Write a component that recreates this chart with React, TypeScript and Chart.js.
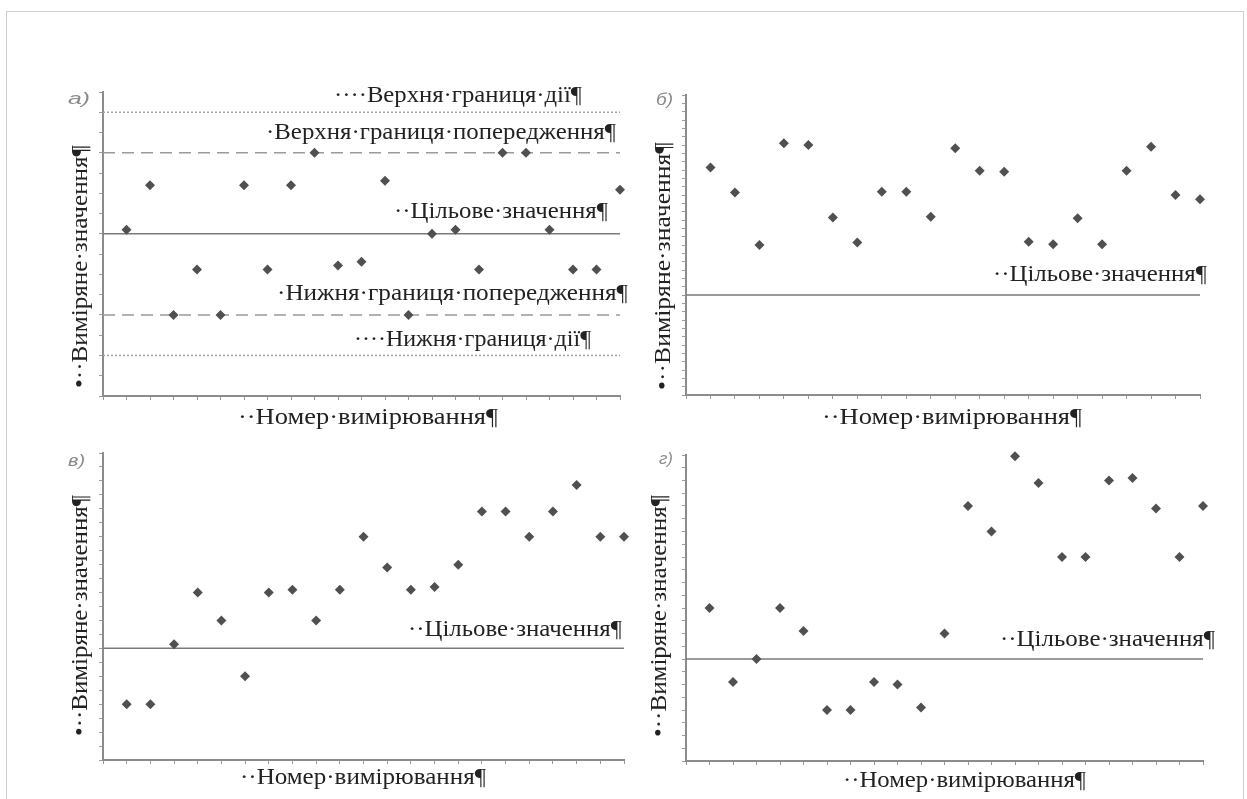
import React, { useEffect, useRef } from "react";
import { Chart, registerables } from "chart.js";

Chart.register(...registerables);

// ---------- DATA ----------
// Panel а) – values in σ units, target 0, warning ±2, action ±3
const measurementsA = [0.1, 1.2, -2, -0.88, -2, 1.2, -0.88, 1.2, 2, -0.78, -0.69, 1.31, -2, 0, 0.1, -0.88, 2, 2, 0.1, -0.88, -0.88, 1.09];
const targetA = 0;
const warningLimitsA = [2, -2];
const actionLimitsA = [3, -3];
const yRangeA = [-4, 3.5];
const yStepA = 0.5;

// Panel б)
const measurementsB = [15.3, 12.3, 6, 18.2, 18, 9.3, 6.3, 12.4, 12.4, 9.4, 17.6, 14.9, 14.8, 6.4, 6.1, 9.2, 6.1, 14.9, 17.8, 12, 11.5];
const targetB = 0;
const yRangeB = [-12, 24];
const yStepB = 1;

// Panel в)
const measurementsC = [-4, -4, 0.3, 4, 2, -2, 4, 4.2, 2, 4.2, 8, 5.8, 4.2, 4.4, 6, 9.8, 9.8, 8, 9.8, 11.7, 8, 8];
const targetC = 0;
const yRangeC = [-8, 14];
const yStepC = 1;

// Panel г)
const measurementsD = [4, -1.8, 0, 4, 2.2, -4, -4, -1.8, -2, -3.8, 2, 12, 10, 15.9, 13.8, 8, 8, 14, 14.2, 11.8, 8, 12];
const targetD = 0;
const yRangeD = [-8, 16];
const yStepD = 1;

// ---------- TEXT ----------
const panelLetters = ["а)", "б)", "в)", "г)"];
const yTitle = "•··Виміряне·значення¶";
const xTitle = "··Номер·вимірювання¶";
const targetLabel = "··Цільове·значення¶";
const upperActionLabel = "····Верхня·границя·дії¶";
const upperWarningLabel = "·Верхня·границя·попередження¶";
const lowerWarningLabel = "·Нижня·границя·попередження¶";
const lowerActionLabel = "····Нижня·границя·дії¶";

// ---------- STYLE / LAYOUT ----------
const SERIF = '"Liberation Serif", "Times New Roman", serif';
const FONT_SIZE = 24;
const TEXT_COLOR = "#222222";
const LETTER_COLOR = "#8a8a8a";
const AXIS_COLOR = "#8c8c8c";
const TICK_LEN = 4;

type Label = { text: string; x1: number; x2: number; cy: number; kind: "main" | "letter" };
type VLabel = { text: string; cx: number; y1: number; y2: number };
type RefLine = { y: number; dash: number[]; color: string; width: number };

type Panel = {
  canvas: { x: number; y: number; w: number; h: number };
  area: { l: number; t: number; r: number; b: number };
  values: number[];
  yRange: number[];
  yStep: number;
  lines: RefLine[];
  labels: Label[];
  vlabels: VLabel[];
};

const solid = (y: number): RefLine => ({ y, dash: [], color: "#7a7a7a", width: 1.5 });
const dashed = (y: number): RefLine => ({ y, dash: [12, 7], color: "#9a9a9a", width: 1.5 });
const dotted = (y: number): RefLine => ({ y, dash: [2, 2], color: "#a0a0a0", width: 1.5 });

const panels: Panel[] = [
  {
    canvas: { x: 0, y: 0, w: 630, h: 440 },
    area: { l: 103, t: 92, r: 620, b: 396 },
    values: measurementsA,
    yRange: yRangeA,
    yStep: yStepA,
    lines: [
      solid(targetA),
      dashed(warningLimitsA[0]),
      dashed(warningLimitsA[1]),
      dotted(actionLimitsA[0]),
      dotted(actionLimitsA[1]),
    ],
    labels: [
      { text: panelLetters[0], x1: 68, x2: 90, cy: 100, kind: "letter" },
      { text: xTitle, x1: 238, x2: 498, cy: 418, kind: "main" },
      { text: upperActionLabel, x1: 334, x2: 582, cy: 96, kind: "main" },
      { text: upperWarningLabel, x1: 266, x2: 616, cy: 133, kind: "main" },
      { text: targetLabel, x1: 394, x2: 608, cy: 212, kind: "main" },
      { text: lowerWarningLabel, x1: 277, x2: 628, cy: 294, kind: "main" },
      { text: lowerActionLabel, x1: 354, x2: 591, cy: 340, kind: "main" },
    ],
    vlabels: [{ text: yTitle, cx: 81, y1: 145, y2: 388 }],
  },
  {
    canvas: { x: 630, y: 0, w: 617, h: 440 },
    area: { l: 686, t: 95, r: 1200, b: 395 },
    values: measurementsB,
    yRange: yRangeB,
    yStep: yStepB,
    lines: [solid(targetB)],
    labels: [
      { text: panelLetters[1], x1: 656, x2: 673, cy: 101, kind: "letter" },
      { text: xTitle, x1: 822, x2: 1082, cy: 418, kind: "main" },
      { text: targetLabel, x1: 993, x2: 1207, cy: 275, kind: "main" },
    ],
    vlabels: [{ text: yTitle, cx: 664, y1: 142, y2: 390 }],
  },
  {
    canvas: { x: 0, y: 440, w: 630, h: 359 },
    area: { l: 103, t: 453, r: 624, b: 760 },
    values: measurementsC,
    yRange: yRangeC,
    yStep: yStepC,
    lines: [solid(targetC)],
    labels: [
      { text: panelLetters[2], x1: 68, x2: 85, cy: 462, kind: "letter" },
      { text: xTitle, x1: 240, x2: 486, cy: 778, kind: "main" },
      { text: targetLabel, x1: 408, x2: 622, cy: 630, kind: "main" },
    ],
    vlabels: [{ text: yTitle, cx: 81, y1: 495, y2: 736 }],
  },
  {
    canvas: { x: 630, y: 440, w: 617, h: 359 },
    area: { l: 686, t: 455, r: 1203, b: 761 },
    values: measurementsD,
    yRange: yRangeD,
    yStep: yStepD,
    lines: [solid(targetD)],
    labels: [
      { text: panelLetters[3], x1: 659, x2: 673, cy: 460, kind: "letter" },
      { text: xTitle, x1: 843, x2: 1086, cy: 781, kind: "main" },
      { text: targetLabel, x1: 1000, x2: 1215, cy: 640, kind: "main" },
    ],
    vlabels: [{ text: yTitle, cx: 660, y1: 495, y2: 737 }],
  },
];

function fitText(ctx: CanvasRenderingContext2D, text: string, len: number) {
  const w = ctx.measureText(text).width;
  return w > 0 ? len / w : 1;
}

function PanelChart({ p }: { p: Panel }) {
  const ref = useRef<HTMLCanvasElement>(null);
  useEffect(() => {
    const canvas = ref.current;
    if (!canvas) return;
    const n = p.values.length;
    const ox = p.canvas.x;
    const oy = p.canvas.y;

    const textPlugin = {
      id: "panelText",
      afterDraw(chart: any) {
        const ctx: CanvasRenderingContext2D = chart.ctx;
        for (const lb of p.labels) {
          ctx.save();
          if (lb.kind === "letter") {
            ctx.font = 'italic 16px "Liberation Sans", Arial, sans-serif';
            ctx.fillStyle = LETTER_COLOR;
          } else {
            ctx.font = `${FONT_SIZE}px ${SERIF}`;
            ctx.fillStyle = TEXT_COLOR;
          }
          ctx.textBaseline = "middle";
          ctx.textAlign = "left";
          const sx = fitText(ctx, lb.text, lb.x2 - lb.x1);
          ctx.translate(lb.x1 - ox, lb.cy - oy);
          ctx.scale(sx, 1);
          ctx.fillText(lb.text, 0, 0);
          ctx.restore();
        }
        for (const vl of p.vlabels) {
          ctx.save();
          ctx.font = `${FONT_SIZE}px ${SERIF}`;
          ctx.fillStyle = TEXT_COLOR;
          ctx.textBaseline = "middle";
          ctx.textAlign = "left";
          const sx = fitText(ctx, vl.text, vl.y2 - vl.y1);
          ctx.translate(vl.cx - ox, vl.y2 - oy);
          ctx.rotate(-Math.PI / 2);
          ctx.scale(sx, 1);
          ctx.fillText(vl.text, 0, 0);
          ctx.restore();
        }
      },
    };

    const lineSets = p.lines.map((ln) => ({
      type: "line" as const,
      data: [
        { x: 0, y: ln.y },
        { x: n, y: ln.y },
      ],
      borderColor: ln.color,
      borderWidth: ln.width,
      borderDash: ln.dash,
      pointRadius: 0,
      fill: false,
      order: 2,
    }));

    const tickFont = { size: 1 };

    const chart = new Chart(canvas, {
      type: "scatter",
      data: {
        datasets: [
          ...lineSets,
          {
            type: "scatter" as const,
            data: p.values.map((v, i) => ({ x: i + 1, y: v })),
            pointRadius: 5,
            pointStyle: "rectRot",
            backgroundColor: "#505050",
            borderColor: "#505050",
            borderWidth: 0,
            clip: false as any,
            order: 1,
          },
        ] as any,
      },
      options: {
        animation: false,
        responsive: false,
        events: [],
        layout: {
          padding: {
            left: p.area.l - ox - TICK_LEN,
            top: p.area.t - oy,
            right: ox + p.canvas.w - p.area.r,
            bottom: oy + p.canvas.h - p.area.b - TICK_LEN,
          },
        },
        plugins: {
          legend: { display: false },
          tooltip: { enabled: false },
          title: { display: false },
        },
        scales: {
          x: {
            type: "linear",
            min: 0,
            max: n,
            ticks: { display: false, stepSize: 1, autoSkip: false, font: tickFont },
            grid: {
              drawOnChartArea: false,
              drawTicks: true,
              tickLength: TICK_LEN,
              color: "#9a9a9a",
              lineWidth: 1,
            },
            border: { display: true, color: AXIS_COLOR, width: 2 },
          },
          y: {
            type: "linear",
            min: p.yRange[0],
            max: p.yRange[1],
            ticks: { display: false, stepSize: p.yStep, autoSkip: false, font: tickFont },
            grid: {
              drawOnChartArea: false,
              drawTicks: true,
              tickLength: TICK_LEN,
              color: "#9a9a9a",
              lineWidth: 1,
            },
            border: { display: true, color: AXIS_COLOR, width: 2 },
          },
        },
      },
      plugins: [textPlugin],
    });
    return () => chart.destroy();
  }, [p]);

  return (
    <canvas
      ref={ref}
      width={p.canvas.w}
      height={p.canvas.h}
      style={{
        position: "absolute",
        left: p.canvas.x,
        top: p.canvas.y,
        width: p.canvas.w,
        height: p.canvas.h,
        display: "block",
      }}
    />
  );
}

export default function App() {
  useEffect(() => {
    document.body.style.margin = "0";
    document.body.style.background = "#ffffff";
  }, []);
  return (
    <div
      style={{
        position: "relative",
        width: 1247,
        height: 799,
        overflow: "hidden",
        background: "#ffffff",
      }}
    >
      <div
        style={{
          position: "absolute",
          left: 6,
          top: 11,
          width: 1238,
          height: 820,
          border: "1.5px solid #cfcfcf",
          boxSizing: "border-box",
        }}
      />
      {panels.map((p, i) => (
        <PanelChart key={i} p={p} />
      ))}
    </div>
  );
}
